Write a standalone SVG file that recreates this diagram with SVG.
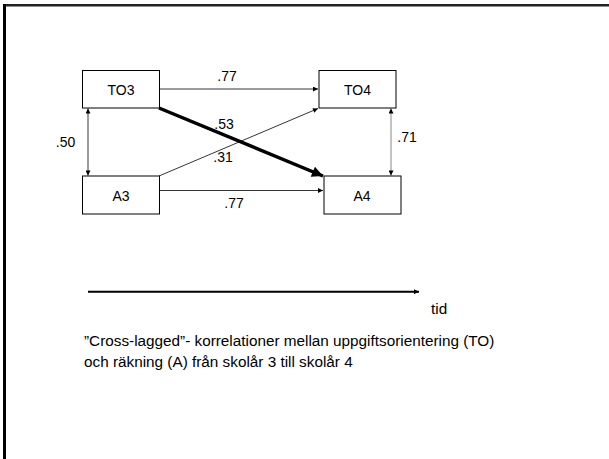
<svg xmlns="http://www.w3.org/2000/svg" width="609" height="459" viewBox="0 0 609 459">
<style>
.box{fill:#fff;stroke:#000;stroke-width:1}
.lbl{font-family:"Liberation Sans",Arial,sans-serif;font-size:14px;fill:#000;text-anchor:middle}
.num{font-family:"Liberation Sans",Arial,sans-serif;font-size:14px;fill:#000;text-anchor:middle}
.cap{font-family:"Liberation Sans",Arial,sans-serif;font-size:15.3px;fill:#000}
.thin{stroke:#000;stroke-width:0.8;fill:none}
</style>
<defs>
<marker id="ah" viewBox="0 0 10 10" refX="10" refY="5" markerWidth="6" markerHeight="5" markerUnits="userSpaceOnUse" orient="auto-start-reverse">
<path d="M0,0 L10,5 L0,10 z" fill="#000"/>
</marker>
<marker id="ahb" viewBox="0 0 10 10" refX="10" refY="5" markerWidth="14" markerHeight="11" markerUnits="userSpaceOnUse" orient="auto">
<path d="M0,0 L10,5 L0,10 z" fill="#000"/>
</marker>
</defs>
<rect width="609" height="459" fill="#fff"/>
<g id="frame">
<line x1="3" y1="5.3" x2="609" y2="5.3" stroke="#222" stroke-width="2.5"/>
<line x1="4.5" y1="4" x2="4.5" y2="459" stroke="#000" stroke-width="3"/>
</g>
<g id="connectors">
<line class="thin" x1="159" y1="89" x2="318" y2="89" marker-end="url(#ah)"/>
<line class="thin" x1="159" y1="190.5" x2="323" y2="190.5" marker-end="url(#ah)"/>
<line class="thin" x1="88" y1="108.5" x2="88" y2="175.5" marker-start="url(#ah)" marker-end="url(#ah)"/>
<line x1="391" y1="108.5" x2="391" y2="175.5" stroke="#888" stroke-width="1" marker-start="url(#ah)" marker-end="url(#ah)"/>
<line class="thin" x1="159" y1="176" x2="318" y2="108.5" marker-end="url(#ah)"/>
<line x1="159" y1="108" x2="323" y2="176" stroke="#000" stroke-width="3.5" marker-end="url(#ahb)"/>
<line x1="88" y1="291.7" x2="419" y2="291.7" stroke="#000" stroke-width="2" marker-end="url(#ah)"/>
</g>
<g id="TO3"><rect class="box" x="82.5" y="70.5" width="77" height="37.5"/><text class="lbl" x="121" y="95">TO3</text></g>
<g id="TO4"><rect class="box" x="319" y="70.5" width="77" height="37.5"/><text class="lbl" x="357.5" y="95">TO4</text></g>
<g id="A3"><rect class="box" x="82.5" y="176" width="77" height="38"/><text class="lbl" x="121" y="201">A3</text></g>
<g id="A4"><rect class="box" x="324" y="176" width="77" height="38"/><text class="lbl" x="362" y="201">A4</text></g>
<g id="labels">
<text class="num" x="227" y="80.5">.77</text>
<text class="num" x="224" y="128.5">.53</text>
<text class="num" x="223" y="162">.31</text>
<text class="num" x="65.5" y="146.5">.50</text>
<text class="num" x="407" y="141.5">.71</text>
<text class="num" x="234" y="208">.77</text>
<text class="cap" x="431" y="313.5">tid</text>
<text class="cap" x="84" y="346">”Cross-lagged”- korrelationer mellan uppgiftsorientering (TO)</text>
<text class="cap" x="84" y="366.5">och räkning (A) från skolår 3 till skolår 4</text>
</g>
</svg>
